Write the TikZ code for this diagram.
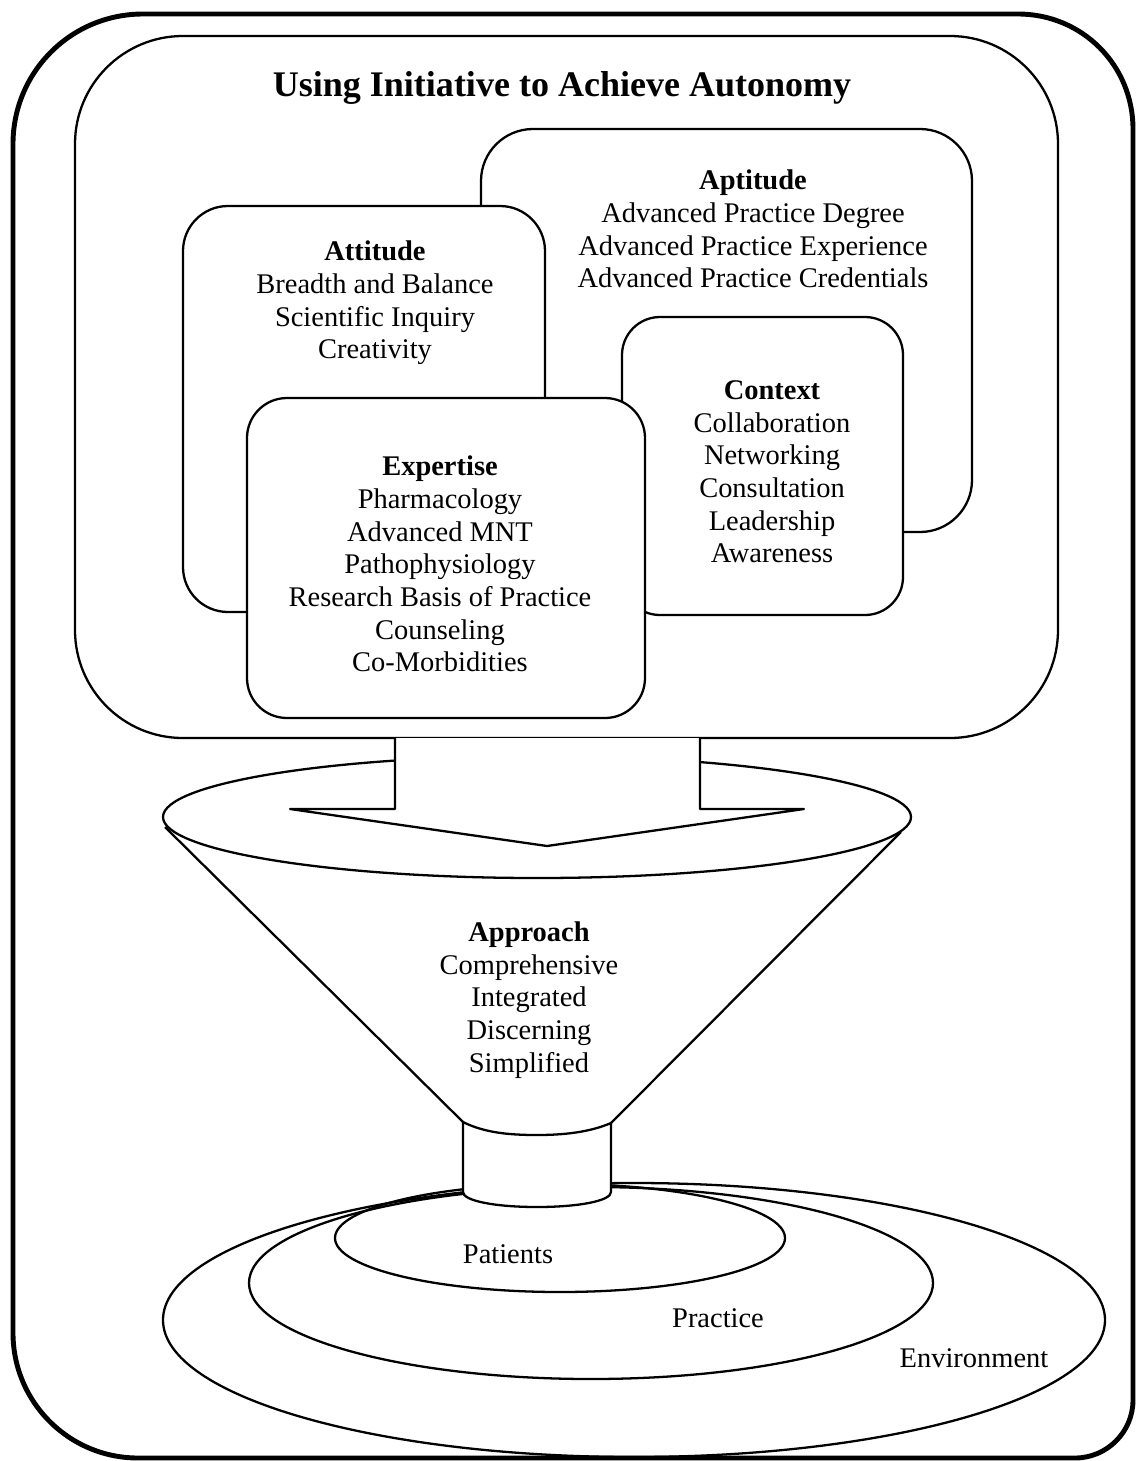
\documentclass[tikz,border=0pt]{standalone}
\usepackage{fontspec}
\setmainfont{Liberation Serif}
\begin{document}
\begin{tikzpicture}[x=0.02cm, y=-0.02cm, line join=round,
    thin line/.style={line width=1.3pt},
    card/.style={thin line, fill=white, rounded corners=#1},
    words/.style={align=center, inner sep=0pt, font=\fontsize{16.2}{18.6}\selectfont}]
    \useasboundingbox (0,0) rectangle (1137,1461);
    \draw[line width=2.8pt] (13,144) .. controls (13,72) and (71,14) .. (143,14) -- (1018,14)
        .. controls (1082,14) and (1133,65) .. (1133,129) -- (1133,1400)
        .. controls (1133,1432) and (1107,1458) .. (1075,1458) -- (138,1458)
        .. controls (69,1458) and (13,1402) .. (13,1333) -- cycle;
    \draw[card=2.16cm] (75,36) rectangle (1058,738);
    \node[font=\fontsize{20.5}{24}\selectfont\bfseries] (title) at (562,88) {Using Initiative to Achieve Autonomy};
    \draw[card=1.04cm] (481,129) rectangle (972,532);
    \draw[card=0.9cm] (183,206) rectangle (545,612);
    \draw[card=0.76cm] (622,317) rectangle (903,615);
    \draw[card=0.8cm] (247,398) rectangle (645,718);
    \node[words] (aptitude) at (753,229) {\textbf{Aptitude}\\Advanced Practice Degree\\Advanced Practice Experience\\Advanced Practice Credentials};
    \node[words] (attitude) at (375,303) {\textbf{Attitude}\\Breadth and Balance\\Scientific Inquiry\\Creativity};
    \node[words] (context) at (772,472) {\textbf{Context}\\Collaboration\\Networking\\Consultation\\Leadership\\Awareness};
    \node[words] (expertise) at (440,564) {\textbf{Expertise}\\Pharmacology\\Advanced MNT\\Pathophysiology\\Research Basis of Practice\\Counseling\\Co-Morbidities};
    \draw[thin line] (537,817) ellipse [x radius=374, y radius=61];
    \draw[thin line, fill=white] (395,738) -- (395,809) -- (290,809) -- (547,846) -- (804,809) -- (700,809) -- (700,738);
    \draw[thin line] (165,827) -- (463,1122);
    \draw[thin line] (901,832) -- (611,1123);
    \node[words] (approach) at (529,1000) {\textbf{Approach}\\Comprehensive\\Integrated\\Discerning\\Simplified};
    \draw[thin line] (634,1320) ellipse [x radius=471, y radius=137];
    \draw[thin line] (591,1283) ellipse [x radius=342, y radius=96];
    \draw[thin line] (560,1238) ellipse [x radius=225, y radius=54];
    \draw[thin line, fill=white] (463,1122) .. controls (485,1133) and (510,1135) .. (537,1135)
        .. controls (565,1135) and (590,1132) .. (611,1123) -- (611,1192)
        .. controls (611,1201) and (578,1207) .. (537,1207)
        .. controls (496,1207) and (463,1201) .. (463,1192) -- cycle;
    \node[words] (patients) at (508,1254) {Patients};
    \node[words] (practice) at (718,1318) {Practice};
    \node[words] (environment) at (974,1358) {Environment};
\end{tikzpicture}
\end{document}
